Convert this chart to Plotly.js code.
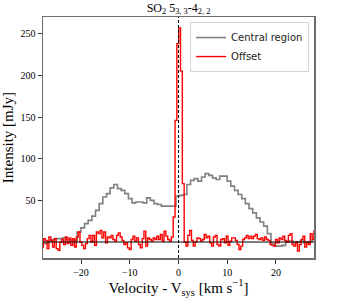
<!DOCTYPE html>
<html>
<head>
<meta charset="utf-8">
<script src="https://cdn.plot.ly/plotly-3.0.1.min.js"></script>
<style>html,body{margin:0;padding:0;background:#fff;}#chart{width:357px;height:298px;}</style>
</head>
<body>
<div id="chart"></div>
<script>
// Central region spectrum (channel centres, km/s) and intensity (mJy)
const centralVelocity = [-27.9,-27.15,-26.4,-25.65,-24.9,-24.15,-23.4,-22.65,-21.9,-21.15,-20.4,-19.65,-18.9,-18.15,-17.4,-16.65,-15.9,-15.15,-14.4,-13.65,-12.9,-12.15,-11.4,-10.65,-9.9,-9.15,-8.4,-7.65,-6.9,-6.15,-5.4,-4.65,-3.9,-3.15,-2.4,-1.65,-0.9,-0.15,0.6,1.35,2.1,2.85,3.6,4.35,5.1,5.85,6.6,7.35,8.1,8.85,9.6,10.35,11.1,11.85,12.6,13.35,14.1,14.85,15.6,16.35,17.1,17.85,18.6,19.35,20.1,20.85,21.6,22.35,23.1,23.85,24.6,25.35,26.1,26.85,27.6];
const centralIntensity = [0,-2,1,3,4,4,5,3,2,2,12,17,22,26,31,38,46,54,58,65,69,64,62,58,52,47,48,48,47,53,50,46,45,43,43,43,43,55,56,57,69,74,76,73,78,82,80,77,75,79,79,73,67,62,57,52,46,40,35,29,24,19,10,-2,-5,-5,-4,0,1,-1,0,1,-1,0,1];

// Offset position spectrum
const offsetVelocity = [-27.9,-27.525,-27.15,-26.775,-26.4,-26.025,-25.65,-25.275,-24.9,-24.525,-24.15,-23.775,-23.4,-23.025,-22.65,-22.275,-21.9,-21.525,-21.15,-20.775,-20.4,-20.025,-19.65,-19.275,-18.9,-18.525,-18.15,-17.775,-17.4,-17.025,-16.65,-16.275,-15.9,-15.525,-15.15,-14.775,-14.4,-14.025,-13.65,-13.275,-12.9,-12.525,-12.15,-11.775,-11.4,-11.025,-10.65,-10.275,-9.9,-9.525,-9.15,-8.775,-8.4,-8.025,-7.65,-7.275,-6.9,-6.525,-6.15,-5.775,-5.4,-5.025,-4.65,-4.275,-3.9,-3.525,-3.15,-2.775,-2.4,-2.025,-1.65,-1.275,-0.9,-0.525,-0.15,0.225,0.6,0.975,1.35,1.725,2.1,2.475,2.85,3.225,3.6,3.975,4.35,4.725,5.1,5.475,5.85,6.225,6.6,6.975,7.35,7.725,8.1,8.475,8.85,9.225,9.6,9.975,10.35,10.725,11.1,11.475,11.85,12.225,12.6,12.975,13.35,13.725,14.1,14.475,14.85,15.225,15.6,15.975,16.35,16.725,17.1,17.475,17.85,18.225,18.6,18.975,19.35,19.725,20.1,20.475,20.85,21.225,21.6,21.975,22.35,22.725,23.1,23.475,23.85,24.225,24.6,24.975,25.35,25.725,26.1,26.475,26.85,27.225,27.6,27.975];
const offsetIntensity = [-6,4,2,-8,6,2,-6,4,-8,-10,0,3,-3,6,-2,5,-4,4,-6,6,12,0,-4,-8,-2,4,8,0,8,-4,12,10,14,5,12,-1,6,5,8,3,1,8,11,6,2,-3,-1,-7,-9,3,7,1,5,-3,-7,4,13,-5,5,3,1,5,3,7,3,9,1,13,7,3,1,6,30,146,238,257,205,70,0,-5,8,14,2,-5,0,5,4,1,3,9,5,7,-1,-5,6,8,-3,-5,3,4,-1,7,-4,1,5,5,2,-3,-9,-5,3,5,8,4,7,4,7,9,4,3,5,2,6,3,2,-3,-4,-5,3,-1,5,3,7,2,0,8,10,-3,-5,0,-11,-3,3,7,-6,0,-3,10,3,13];

const seriesNames = ["Central region", "Offset"];
const xTicks = [-20, -10, 0, 10, 20];
const yTicks = [50, 100, 150, 200, 250];

const serif = "Liberation Serif, Times New Roman, serif";
const sans = "DejaVu Sans, sans-serif";

const traces = [
  {x: centralVelocity, y: centralIntensity, name: seriesNames[0], type: "scatter", mode: "lines",
   line: {shape: "hvh", color: "#808080", width: 1.6}},
  {x: offsetVelocity, y: offsetIntensity, name: seriesNames[1], type: "scatter", mode: "lines",
   line: {shape: "hvh", color: "#ff0000", width: 1.4}}
];

const axisCommon = {
  showgrid: false, zeroline: false, showline: true, mirror: true,
  linecolor: "#6e6e6e", linewidth: 1.5,
  ticks: "outside", ticklen: 4, tickwidth: 1, tickcolor: "#333",
  tickfont: {family: serif, size: 10, color: "#000"}
};

const layout = {
  width: 357, height: 298,
  margin: {l: 43, r: 43, t: 17, b: 40, pad: 0},
  paper_bgcolor: "#fff", plot_bgcolor: "#fff",
  title: {text: "SO<sub>2</sub> 5<sub>3, 3</sub>-4<sub>2, 2</sub>", font: {family: serif, size: 12, color: "#000"},
          x: 0.5, xref: "paper", xanchor: "center", y: 0.975, yref: "container", yanchor: "middle"},
  xaxis: Object.assign({}, axisCommon, {
    range: [-27.8, 27.8], tickvals: xTicks, ticktext: xTicks.map(v => v < 0 ? "−" + Math.abs(v) : String(v)),
    title: {text: "Velocity - V<sub>sys</sub> [km s<sup>−1</sup>]", font: {family: serif, size: 15, color: "#000"}, standoff: 4}
  }),
  yaxis: Object.assign({}, axisCommon, {
    range: [-19.2, 270], tickvals: yTicks,
    title: {text: "Intensity [mJy]", font: {family: serif, size: 15, color: "#000"}, standoff: 4}
  }),
  legend: {x: 0.982, xanchor: "right", y: 0.979, yanchor: "top", bgcolor: "rgba(255,255,255,0.9)",
           bordercolor: "#d4d4d4", borderwidth: 1, font: {family: sans, size: 10, color: "#222"},
           tracegroupgap: 0, itemwidth: 30},
  showlegend: true,
  shapes: [
    {type: "line", xref: "paper", x0: 0, x1: 1, yref: "y", y0: 0, y1: 0, line: {color: "#000", width: 1.2}, layer: "above"},
    {type: "line", xref: "x", x0: 0, x1: 0, yref: "paper", y0: 0, y1: 1, line: {color: "#000", width: 1, dash: "3px,2px"}, layer: "above"}
  ]
};

Plotly.newPlot("chart", traces, layout, {staticPlot: true, displayModeBar: false});
</script>
</body>
</html>
